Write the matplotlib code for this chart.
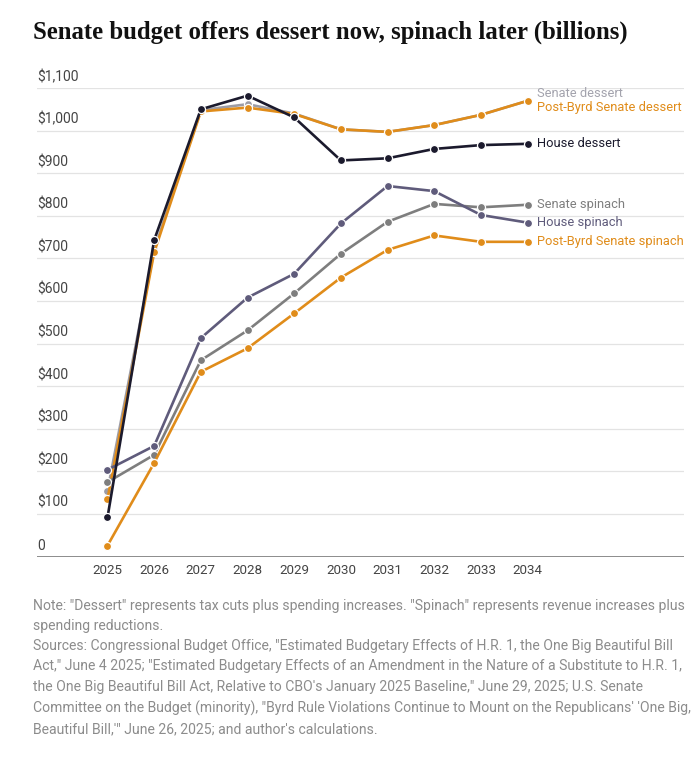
import matplotlib.pyplot as plt
import matplotlib.transforms as mtransforms

# values (billions of dollars)
years = [2025, 2026, 2027, 2028, 2029, 2030, 2031, 2032, 2033, 2034]
senate_dessert = [155, 720, 1048, 1062, 1040, 1003, 997, 1013, 1037, 1070]
postbyrd_dessert = [135, 714, 1045, 1054, 1039, 1003, 997, 1013, 1037, 1070]
house_dessert = [92, 743, 1050, 1082, 1031, 930, 935, 957, 966, 969]
senate_spinach = [175, 239, 461, 531, 618, 711, 786, 828, 820, 826]
house_spinach = [204, 260, 513, 608, 664, 782, 870, 858, 802, 784]
postbyrd_spinach = [26, 220, 434, 489, 571, 655, 720, 754, 739, 739]

ytick_vals = [0, 100, 200, 300, 400, 500, 600, 700, 800, 900, 1000, 1100]
ytick_labels = ["0", "$100", "$200", "$300", "$400", "$500", "$600", "$700",
                "$800", "$900", "$1,000", "$1,100"]

orange = "#e08c1a"
navy = "#1b1a2d"
purple = "#5f5b7b"
grey = "#7e7e7e"
light = "#a3a3ad"

# (name, values, line colour, label colour, label y in data units)
series = [
    ("Senate dessert", senate_dessert, "#9c9ca6", light, 1088),
    ("Post-Byrd Senate dessert", postbyrd_dessert, orange, orange, 1055),
    ("Senate spinach", senate_spinach, grey, grey, 827),
    ("Post-Byrd Senate spinach", postbyrd_spinach, orange, orange, 740),
    ("House spinach", house_spinach, purple, purple, 785),
    ("House dessert", house_dessert, navy, navy, 970),
]

plt.rcParams["font.family"] = ["Roboto", "DejaVu Sans"]

fig = plt.figure(figsize=(7, 7.58), dpi=100)
ax = fig.add_axes([37 / 700, 201.3 / 758, (684 - 37) / 700, (670 - 201.3) / 758])

for name, vals, col, lcol, ly in series:
    ax.plot(years, vals, color=col, lw=1.9, marker="o", markersize=5.8,
            markeredgecolor="white", markeredgewidth=0.9, solid_capstyle="round",
            clip_on=False, zorder=3)
    ax.text(2034.2, ly, name, color=lcol, fontsize=9.3, va="center", ha="left")

ax.set_xlim(2023.49, 2037.35)
ax.set_ylim(0, 1100)

for v in ytick_vals[1:]:
    ax.axhline(v, color="#e3e3e3", lw=0.9, zorder=1)
ax.axhline(0, color="#6e6e6e", lw=1.1, zorder=2)

ax.set_yticks([])
ax.set_xticks(years)
ax.set_xticklabels([str(y) for y in years], fontsize=9.6, color="#444444")
ax.tick_params(axis="x", length=0, pad=5)
for s in ax.spines.values():
    s.set_visible(False)

trans = mtransforms.blended_transform_factory(ax.transAxes, ax.transData)
off = mtransforms.offset_copy(trans, fig=fig, x=0, y=3, units="points")
for v, lab in zip(ytick_vals, ytick_labels):
    ax.text(0, v, lab, transform=off, fontsize=10, color="#444444",
            ha="left", va="bottom")

fig.text(33 / 700, 1 - 32 / 758, "Senate budget offers dessert now, spinach later (billions)",
         fontsize=17.8, fontweight="bold", family="Liberation Serif",
         color="#111111", va="center", ha="left")

note = ('Note: "Dessert" represents tax cuts plus spending increases. "Spinach" represents revenue increases plus\n'
        'spending reductions.\n'
        'Sources: Congressional Budget Office, "Estimated Budgetary Effects of H.R. 1, the One Big Beautiful Bill\n'
        'Act," June 4 2025; "Estimated Budgetary Effects of an Amendment in the Nature of a Substitute to H.R. 1,\n'
        'the One Big Beautiful Bill Act, Relative to CBO\'s January 2025 Baseline," June 29, 2025; U.S. Senate\n'
        'Committee on the Budget (minority), "Byrd Rule Violations Continue to Mount on the Republicans\' \'One Big,\n'
        'Beautiful Bill,\'" June 26, 2025; and author\'s calculations.')
fig.text(33 / 700, 1 - 599 / 758, note, fontsize=10.1, color="#8c8c8c",
         ha="left", va="top", linespacing=1.56)

fig.savefig("out.png", dpi=100, facecolor="white")
